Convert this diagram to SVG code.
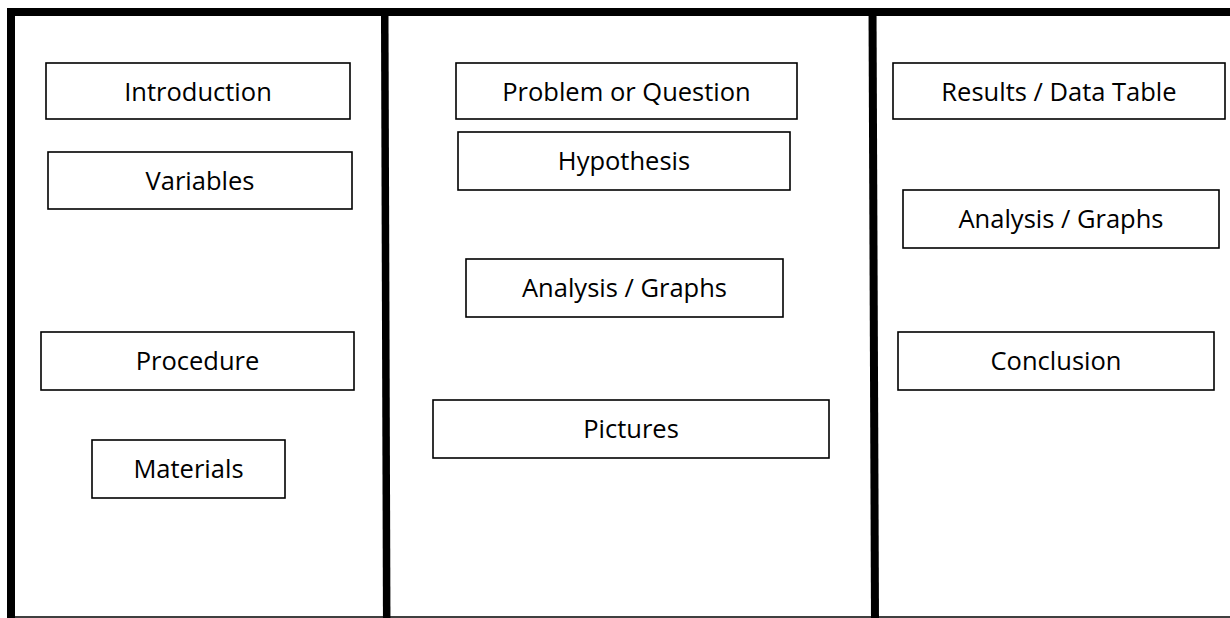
<svg xmlns="http://www.w3.org/2000/svg" width="1230" height="618" viewBox="0 0 1230 618">
  <style>
    .box { fill: #ffffff; stroke: #000000; stroke-width: 1.6; }
    .lbl { font-family: "Open Sans", "Noto Sans", sans-serif; font-size: 25.5px; fill: #000000; text-anchor: middle; }
    .frame { stroke: #000000; fill: none; }
  </style>
  <rect x="0" y="0" width="1230" height="618" fill="#ffffff"/>
  <g id="frame">
    <line class="frame" x1="7" y1="12" x2="1230" y2="12" stroke-width="8"/>
    <line class="frame" x1="11" y1="8" x2="11" y2="618" stroke-width="8"/>
    <line class="frame" x1="384.7" y1="8" x2="386.7" y2="618" stroke-width="7.5"/>
    <line class="frame" x1="872.5" y1="8" x2="875" y2="618" stroke-width="8"/>
    <line class="frame" x1="7" y1="617" x2="1230" y2="617" stroke-width="1.6"/>
  </g>
  <g id="connectors"></g>
  <g id="introduction"><rect class="box" x="46" y="63" width="304" height="56"/><text class="lbl" x="198" y="101">Introduction</text></g>
  <g id="variables"><rect class="box" x="48" y="152" width="304" height="57"/><text class="lbl" x="200" y="190">Variables</text></g>
  <g id="procedure"><rect class="box" x="41" y="332" width="313" height="58"/><text class="lbl" x="197.5" y="370">Procedure</text></g>
  <g id="materials"><rect class="box" x="92" y="440" width="193" height="58"/><text class="lbl" x="188.5" y="478">Materials</text></g>
  <g id="problem"><rect class="box" x="456" y="63" width="341" height="56"/><text class="lbl" x="626.5" y="101">Problem or Question</text></g>
  <g id="hypothesis"><rect class="box" x="458" y="132" width="332" height="58"/><text class="lbl" x="624" y="170">Hypothesis</text></g>
  <g id="analysis-mid"><rect class="box" x="466" y="259" width="317" height="58"/><text class="lbl" x="624.5" y="297">Analysis / Graphs</text></g>
  <g id="pictures"><rect class="box" x="433" y="400" width="396" height="58"/><text class="lbl" x="631" y="438">Pictures</text></g>
  <g id="results"><rect class="box" x="893" y="63" width="332" height="56"/><text class="lbl" x="1059" y="101">Results / Data Table</text></g>
  <g id="analysis-right"><rect class="box" x="903" y="190" width="316" height="58"/><text class="lbl" x="1061" y="228">Analysis / Graphs</text></g>
  <g id="conclusion"><rect class="box" x="898" y="332" width="316" height="58"/><text class="lbl" x="1056" y="370">Conclusion</text></g>
</svg>
